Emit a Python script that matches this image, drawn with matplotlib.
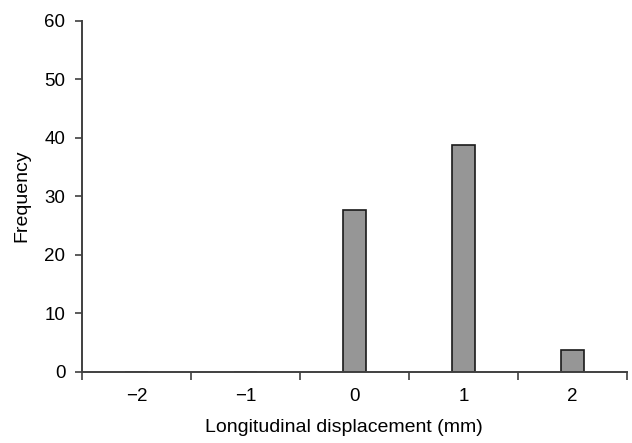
import matplotlib.pyplot as plt
import numpy as np

categories = ['\u22122', '\u22121', '0', '1', '2']
frequency = [0, 0, 27.6, 38.7, 3.7]

plt.rcParams['font.family'] = ['Liberation Sans', 'DejaVu Sans']
plt.rcParams['font.size'] = 14

fig = plt.figure(figsize=(6.32, 4.43), dpi=100)
ax = fig.add_axes([0.13, 0.161, 0.8616, 0.792])

x = np.arange(len(categories))
ax.bar(x, frequency, width=0.21, color='#969696', edgecolor='#1a1a1a', linewidth=1.2, zorder=2)

ax.set_xlim(-0.5, len(categories) - 0.5)
ax.set_ylim(0, 60)
ax.set_yticks(range(0, 61, 10))
ax.set_xticks(x)
ax.set_xticklabels(categories)
ax.set_xticks(np.arange(-0.5, len(categories)), minor=True)
ax.tick_params(axis='x', which='major', length=0, pad=12, labelsize=13.5)
ax.tick_params(axis='x', which='minor', length=6, width=1.2, color='#404040')
ax.tick_params(axis='y', length=5, width=1.2, color='#404040', pad=7, labelsize=13.5)

for s in ['top', 'right']:
    ax.spines[s].set_visible(False)
for s in ['left', 'bottom']:
    ax.spines[s].set_color('#404040')
    ax.spines[s].set_linewidth(1.4)
    ax.spines[s].set_zorder(3)

ax.set_xlabel('Longitudinal displacement (mm)', labelpad=12)
ax.xaxis.set_label_coords(0.481, -0.135)
ax.set_ylabel('Frequency', labelpad=10)

fig.savefig('out.png', dpi=100)
